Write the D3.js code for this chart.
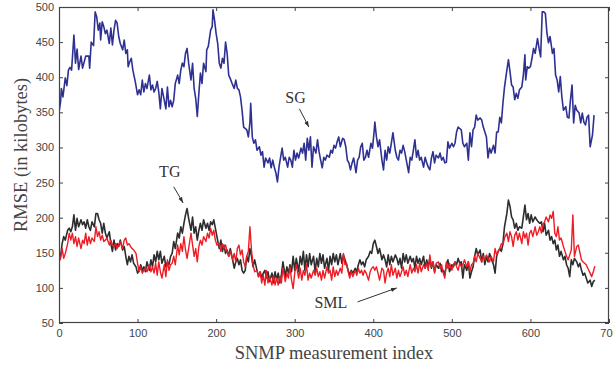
<!DOCTYPE html>
<html>
<head>
<meta charset="utf-8">
<script src="https://cdn.jsdelivr.net/npm/d3@7"></script>
<style>
  html, body { margin: 0; padding: 0; background: #fff; }
  svg { display: block; }
</style>
</head>
<body>
<svg id="chart" width="613" height="366"></svg>
<script>
// ---------------- DATA ----------------
const xTicks = [0, 100, 200, 300, 400, 500, 600, 700];
const yTicks = [50, 100, 150, 200, 250, 300, 350, 400, 450, 500];

// SG series (measurement index, RMSE)
const sgIdx = [
  0,2,3,5,8,10,12,14,16,19,21,23,25,28,30,34,38,39,41,44,
  46,48,50,52,53,55,57,59,61,64,66,68,70,72,74,76,78,81,83,85,
  87,88,90,92,94,97,100,102,104,106,108,110,112,115,117,119,121,123,125,127,
  129,131,134,136,138,140,142,144,146,148,151,153,155,157,159,161,163,165,168,170,
  172,174,176,178,180,182,184,187,188,190,193,195,196,198,200,202,204,206,208,210,
  212,214,216,218,221,223,225,227,229,231,233,235,
  239,241,243,244,246,248,250,252,255,257,259,261,263,266,268,270,272,274,276,278,
  280,282,284,286,288,291,293,295,297,299,301,303,305,308,310,312,314,316,318,320,
  322,324,327,329,331,333,335,337,339,341,344,346,348,350,352,354,356,358,361,363,
  365,367,369,371,373,375,378,380,382,384,386,388,390,392,394,397,399,401,402,404,
  406,408,411,413,415,417,419,421,423,425,428,430,432,434,436,438,440,442,445,447,
  449,451,453,455,457,459,461,464,466,468,470,
  472,474,476,478,480,483,485,487,489,491,493,495,497,500,502,504,506,508,510,512,
  514,516,519,521,523,525,527,529,531,533,536,538,540,542,544,546,548,550,553,555,
  557,559,561,563,565,567,570,572,574,576,578,580,582,584,586,589,591,593,
  594,596,598,600,602,604,606,609,611,613,615,617,619,621,623,625,628,630,632,634,
  636,638,640,642,645,647,649,651,653,655,657,659,662,664,666,668,670,672,674,676,
  679,681
];
const sgVal = [
  350,365,384,372,399,388,410,414,410,460,420,440,411,430,413,430,430,413,450,445,
  493,486,467,477,453,479,472,462,467,448,470,446,467,481,477,458,448,439,453,434,
  439,415,422,427,410,394,375,382,375,396,379,391,384,403,382,389,379,384,394,379,
  355,384,367,355,386,358,367,358,367,391,403,391,410,420,415,434,441,420,396,420,
  384,370,344,377,406,391,420,408,439,444,467,472,496,481,462,448,420,413,427,420,
  450,434,403,398,389,384,396,384,382,372,353,329,
  325,315,335,363,315,306,311,296,301,289,294,272,285,278,285,271,282,272,264,251,
  272,286,299,282,286,272,286,282,272,296,282,292,285,299,292,306,282,313,296,315,
  272,301,292,311,294,282,271,286,282,289,286,296,292,303,299,308,315,301,313,311,
  301,282,278,268,278,285,264,282,286,301,306,282,286,296,286,306,299,322,336,315,
  301,311,282,268,296,282,301,292,306,321,296,286,282,296,292,303,294,282,264,286,
  282,296,311,286,296,282,286,272,286,278,272,
  268,285,294,278,289,285,292,282,286,278,279,308,299,306,301,306,322,329,327,325,
  306,301,306,282,321,301,325,329,346,339,342,339,329,322,315,285,299,292,303,292,
  322,322,343,335,363,386,410,425,408,389,386,368,377,370,382,386,403,432,
  396,415,413,415,427,441,434,455,441,429,493,493,491,463,449,458,434,441,403,396,
  379,401,372,353,358,343,342,368,389,335,360,353,349,335,349,336,332,343,346,301,
  318,346
];

// TG and SML share the same measurement indices
const lowIdx = [
  0,2,4,6,8,11,13,15,17,19,21,23,25,28,30,32,34,36,38,40,
  42,45,47,49,51,53,55,57,59,61,64,66,68,70,72,74,76,78,81,83,
  85,87,89,91,93,95,98,100,102,104,106,108,110,112,115,117,119,121,123,125,
  127,129,131,134,136,138,140,142,144,146,148,151,153,155,157,159,161,163,165,168,
  170,172,174,176,178,180,182,184,187,189,191,193,195,197,199,201,204,206,208,210,
  212,214,216,218,221,223,225,227,229,231,233,235,
  237,239,241,243,245,247,249,252,254,256,258,260,262,264,266,268,271,273,275,277,
  279,281,283,285,288,290,292,294,296,298,300,302,305,307,309,311,313,315,317,319,
  321,324,326,328,330,332,334,336,338,341,343,345,347,349,351,353,355,358,360,362,
  364,366,368,370,372,374,377,379,381,383,385,387,389,391,394,396,398,400,402,404,
  406,408,411,413,415,417,419,421,423,425,428,430,432,434,436,438,440,442,444,447,
  449,451,453,455,457,459,461,464,466,468,470,
  472,474,476,478,480,483,485,487,489,491,493,495,497,500,502,504,506,508,510,512,
  514,516,519,521,523,525,527,529,531,533,536,538,540,542,544,546,548,550,553,555,
  557,559,561,563,565,567,570,572,574,576,578,580,582,584,586,589,591,593,595,597,
  599,601,603,606,608,610,612,614,616,618,620,623,625,627,629,631,633,635,637,639,
  642,644,646,648,650,652,654,656,659,661,663,665,667,669,671,673,676,678,680,682
];
const tgVal = [
  149,145,163,173,168,182,185,180,187,204,182,199,187,197,190,194,185,197,187,182,
  194,187,206,206,197,192,178,192,178,171,180,163,152,168,154,163,159,168,154,159,
  145,133,145,137,147,135,130,121,125,133,125,130,123,137,125,140,130,147,137,152,
  140,152,135,145,130,137,133,145,149,166,156,178,171,187,178,192,204,213,199,182,
  201,178,187,168,182,192,182,197,185,192,182,194,190,197,185,173,156,168,152,161,
  149,154,145,156,140,128,137,142,133,140,125,121,
  125,145,137,156,145,130,140,125,116,123,114,121,125,114,123,109,121,107,123,111,
  121,107,118,137,116,130,121,133,123,145,125,142,123,145,133,152,125,147,130,149,
  133,145,123,142,130,149,135,147,128,142,125,145,133,149,137,147,133,149,135,147,
  140,133,125,118,125,121,128,123,133,140,133,137,130,140,145,152,149,163,168,159,
  149,156,140,147,140,130,147,133,145,137,147,142,133,142,128,149,137,147,135,145,
  137,142,128,145,135,142,133,145,128,140,130,
  142,128,137,123,133,128,135,123,125,118,133,140,123,133,130,137,133,142,135,137,
  114,133,125,137,114,123,130,145,156,147,154,137,149,133,145,137,149,142,133,121,
  145,152,156,152,163,187,206,225,216,201,197,185,192,182,187,185,201,218,197,206,
  192,204,194,201,197,194,192,194,180,192,175,182,168,173,163,168,154,161,145,152,
  140,145,133,128,116,140,133,142,137,130,135,125,118,121,114,107,111,102,109,111
];
const smlVal = [
  137,142,156,142,149,163,178,168,178,163,173,159,171,156,168,163,178,161,173,163,
  171,166,187,173,180,168,175,166,168,171,161,168,161,159,163,156,161,166,156,168,
  171,161,163,159,156,154,149,135,123,130,121,125,128,123,133,123,130,121,135,118,
  137,123,114,133,116,140,125,133,135,145,133,161,147,163,152,173,154,142,156,178,
  161,145,156,137,159,168,161,173,166,178,171,185,175,182,168,161,163,152,163,156,
  161,152,145,152,140,149,137,156,161,147,154,137,
  130,145,152,187,154,133,123,125,116,123,107,118,104,125,107,116,104,118,104,114,
  104,116,107,128,109,121,114,130,111,99,121,133,114,128,111,125,118,133,111,121,
  114,125,118,128,116,123,111,125,114,130,121,125,111,130,116,125,118,128,121,149,
  133,135,123,114,123,116,125,118,128,121,125,118,125,121,111,123,128,130,125,130,
  121,111,128,125,107,121,128,116,133,118,128,114,125,116,123,130,118,125,116,133,
  121,128,123,133,121,135,123,133,128,135,125,
  147,130,137,121,135,137,128,133,121,114,137,128,135,125,133,137,130,125,135,130,
  133,140,130,137,123,133,135,145,137,149,142,137,145,140,147,142,137,145,137,156,
  147,152,156,163,161,171,178,166,180,173,159,175,180,168,178,163,180,171,178,161,
  178,182,173,187,175,180,187,178,190,194,201,194,204,199,209,178,173,187,168,171,
  159,152,145,140,147,154,204,145,159,161,150,140,137,135,133,128,121,116,123,131
];

// annotations (index, value positions in data space)
const labels = [
  { text: "SG",  x: 301, y: 363, ax1: 306, ay1: 355, ax2: 318, ay2: 329 },
  { text: "TG",  x: 141, y: 258, ax1: 146, ay1: 244, ax2: 158, ay2: 221 },
  { text: "SML", x: 346, y: 71,  ax1: 380, ay1: 80,  ax2: 430, ay2: 100 }
];

// ---------------- CHART ----------------
const svg = d3.select("#chart");
const M = { left: 59, right: 609, top: 7, bottom: 323 };
const x = d3.scaleLinear().domain([0, 700]).range([M.left, M.right]);
const y = d3.scaleLinear().domain([50, 500]).range([M.bottom, M.top]);

const tickFont = "'Liberation Sans', Arial, Helvetica, sans-serif";
const serif = "'Liberation Serif', 'Times New Roman', Times, serif";
const axisColor = "#444";

svg.append("defs").append("clipPath").attr("id", "clip")
  .append("rect").attr("x", M.left).attr("y", M.top)
  .attr("width", M.right - M.left).attr("height", M.bottom - M.top);

const defs = svg.select("defs");
defs.append("marker").attr("id", "arrow")
  .attr("viewBox", "0 0 10 10").attr("refX", 10).attr("refY", 5)
  .attr("markerWidth", 6).attr("markerHeight", 6).attr("orient", "auto")
  .attr("markerUnits", "userSpaceOnUse")
  .append("path").attr("d", "M0,1.5 L10,5 L0,8.5 Z").attr("fill", "#333");

function styleAxis(g) {
  g.select(".domain").remove();
  g.selectAll(".tick line").attr("stroke", axisColor).attr("stroke-width", 1);
  g.selectAll(".tick text").attr("fill", axisColor)
    .style("font-family", tickFont).style("font-size", "11px");
}

svg.append("g").attr("transform", `translate(0,${M.bottom})`)
  .call(d3.axisBottom(x).tickValues(xTicks).tickSizeInner(-4).tickSizeOuter(0).tickPadding(6).tickFormat(d3.format("d")))
  .call(styleAxis);
svg.append("g").attr("transform", `translate(0,${M.top})`)
  .call(d3.axisTop(x).tickValues(xTicks).tickSizeInner(-4).tickSizeOuter(0).tickFormat(""))
  .call(styleAxis);
svg.append("g").attr("transform", `translate(${M.left},0)`)
  .call(d3.axisLeft(y).tickValues(yTicks).tickSizeInner(-4).tickSizeOuter(0).tickPadding(5).tickFormat(d3.format("d")))
  .call(styleAxis);
svg.append("g").attr("transform", `translate(${M.right},0)`)
  .call(d3.axisRight(y).tickValues(yTicks).tickSizeInner(-4).tickSizeOuter(0).tickFormat(""))
  .call(styleAxis);

// data lines
const line = d3.line().x(d => x(d[0])).y(d => y(d[1]));
const zip = (a, b) => a.slice(0, Math.min(a.length, b.length)).map((v, i) => [v, b[i]]);
const plot = svg.append("g").attr("clip-path", "url(#clip)");
plot.append("path").datum(zip(sgIdx, sgVal)).attr("d", line)
  .attr("fill", "none").attr("stroke", "#2e3192").attr("stroke-width", 1.6).attr("stroke-linejoin", "round");
plot.append("path").datum(zip(lowIdx, tgVal)).attr("d", line)
  .attr("fill", "none").attr("stroke", "#2d2d2f").attr("stroke-width", 1.6).attr("stroke-linejoin", "round");
plot.append("path").datum(zip(lowIdx, smlVal)).attr("d", line)
  .attr("fill", "none").attr("stroke", "#ee1c25").attr("stroke-width", 1.4).attr("stroke-linejoin", "round");

// frame
svg.append("rect").attr("x", M.left + 0.5).attr("y", M.top + 0.5)
  .attr("width", M.right - M.left - 1).attr("height", M.bottom - M.top - 1)
  .attr("fill", "none").attr("stroke", axisColor).attr("stroke-width", 1.2);

// annotations
labels.forEach(l => {
  svg.append("text").attr("x", x(l.x)).attr("y", y(l.y))
    .attr("text-anchor", "middle").attr("fill", "#333")
    .style("font-family", serif).style("font-size", "16px").text(l.text);
  svg.append("line").attr("x1", x(l.ax1)).attr("y1", y(l.ay1))
    .attr("x2", x(l.ax2)).attr("y2", y(l.ay2))
    .attr("stroke", "#333").attr("stroke-width", 1).attr("marker-end", "url(#arrow)");
});

// axis titles
svg.append("text").attr("x", (M.left + M.right) / 2).attr("y", 359)
  .attr("text-anchor", "middle").attr("fill", axisColor)
  .style("font-family", serif).style("font-size", "18.5px").text("SNMP measurement index");
svg.append("text").attr("transform", `translate(27,${(M.top + M.bottom) / 2 - 10}) rotate(-90)`)
  .attr("text-anchor", "middle").attr("fill", axisColor)
  .style("font-family", serif).style("font-size", "18.5px").text("RMSE (in kilobytes)");
</script>
</body>
</html>
